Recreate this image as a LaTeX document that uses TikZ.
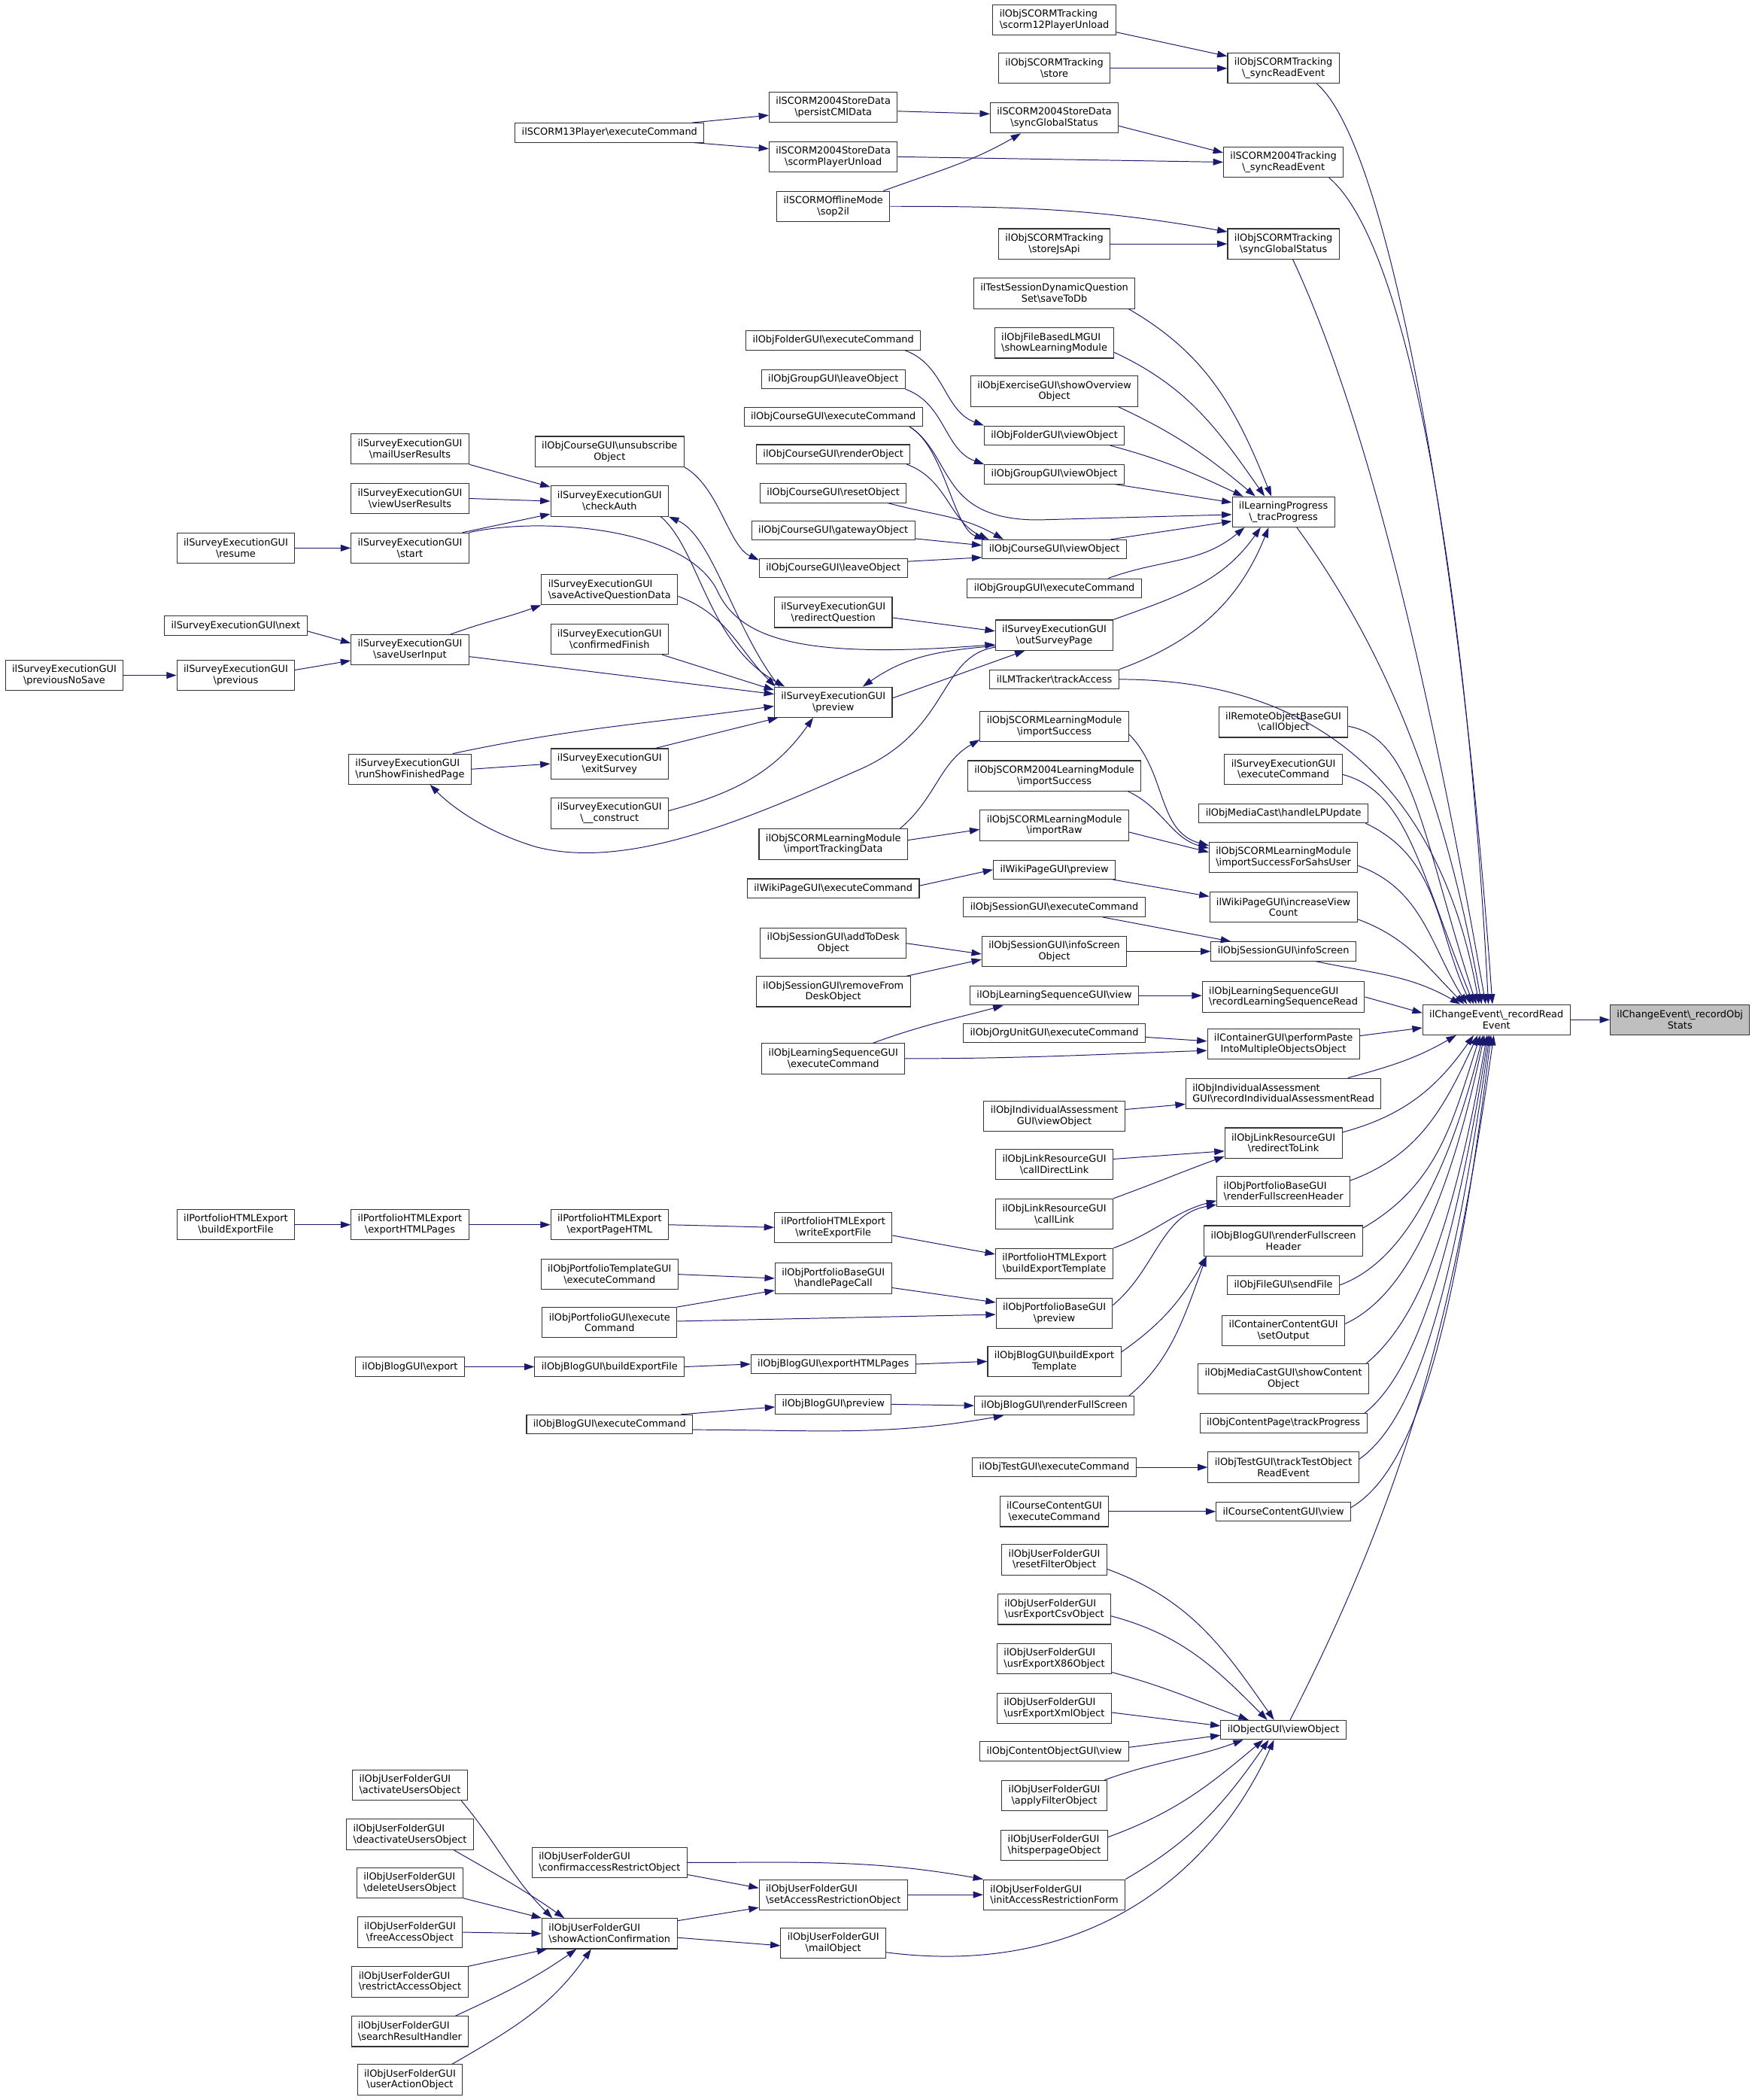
\documentclass[tikz,border=0pt]{standalone}
\usepackage{fontspec}
\setmainfont{DejaVu Sans}
\usetikzlibrary{arrows.meta}

\definecolor{callblue}{HTML}{191970}
\definecolor{rootgray}{HTML}{BFBFBF}
\newcommand{\bsl}{\textbackslash}

\tikzset{
  fn/.style={draw=black!80, line width=0.6pt, fill=white, align=center,
    font=\fontsize{7.25}{8.3}\selectfont, inner xsep=5pt, inner ysep=1pt,
    minimum height=22.6pt},
  fns/.style={fn, minimum height=14.3pt},
  fnl/.style={fn, align=left},
  call/.style={draw=callblue, line width=0.55pt, -{Triangle[length=7.5pt,width=5pt]}},
}

\begin{document}
\begin{tikzpicture}[x=1pt,y=-1pt]
\useasboundingbox (0,0) rectangle (1310,1567.2);

% ==== root ====
\node[fn, fill=rootgray] (ros) at (1254,761) {ilChangeEvent\bsl\_recordObj\\Stats};
\node[fn] (rre) at (1117,761) {ilChangeEvent\bsl\_recordRead\\Event};

% ==== direct callers of recordReadEvent ====
\node[fn] (sst) at (958,51) {ilObjSCORMTracking\\\bsl\_syncReadEvent};
\node[fn] (s4t) at (958,121) {ilSCORM2004Tracking\\\bsl\_syncReadEvent};
\node[fn] (sgs) at (958,182) {ilObjSCORMTracking\\\bsl syncGlobalStatus};
\node[fn] (ltp) at (958,382) {ilLearningProgress\\\bsl\_tracProgress};
\node[fn] (rcall) at (958,539) {ilRemoteObjectBaseGUI\\\bsl callObject};
\node[fn] (sexec) at (958,574) {ilSurveyExecutionGUI\\\bsl executeCommand};
\node[fns] (mclp) at (958,607) {ilObjMediaCast\bsl handleLPUpdate};
\node[fn] (sahs) at (958,640) {ilObjSCORMLearningModule\\\bsl importSuccessForSahsUser};
\node[fn] (wivc) at (958,677) {ilWikiPageGUI\bsl increaseView\\Count};
\node[fns] (sesi) at (958,710) {ilObjSessionGUI\bsl infoScreen};
\node[fnl] (lsrr) at (958,744) {ilObjLearningSequenceGUI\\\bsl recordLearningSequenceRead};
\node[fn] (cpaste) at (958,779) {ilContainerGUI\bsl performPaste\\IntoMultipleObjectsObject};
\node[fnl] (iarr) at (958,816) {ilObjIndividualAssessment\\GUI\bsl recordIndividualAssessmentRead};
\node[fn] (lrtl) at (958,853) {ilObjLinkResourceGUI\\\bsl redirectToLink};
\node[fnl] (pfsh) at (958,889) {ilObjPortfolioBaseGUI\\\bsl renderFullscreenHeader};
\node[fn] (bfsh) at (958,926) {ilObjBlogGUI\bsl renderFullscreen\\Header};
\node[fns] (fsend) at (958,959) {ilObjFileGUI\bsl sendFile};
\node[fn] (ccout) at (958,993) {ilContainerContentGUI\\\bsl setOutput};
\node[fn] (mcsc) at (958,1029) {ilObjMediaCastGUI\bsl showContent\\Object};
\node[fns] (cptp) at (958,1062) {ilObjContentPage\bsl trackProgress};
\node[fn] (tgre) at (958,1095) {ilObjTestGUI\bsl trackTestObject\\ReadEvent};
\node[fns] (ccview) at (958,1128) {ilCourseContentGUI\bsl view};
\node[fns] (ogvo) at (958,1291) {ilObjectGUI\bsl viewObject};

% ==== second column ====
\node[fnl] (s12u) at (787,15) {ilObjSCORMTracking\\\bsl scorm12PlayerUnload};
\node[fn] (sstore) at (787,51) {ilObjSCORMTracking\\\bsl store};
\node[fn] (sdgs) at (787,88) {ilSCORM2004StoreData\\\bsl syncGlobalStatus};
\node[fn] (sjs) at (787,182) {ilObjSCORMTracking\\\bsl storeJsApi};
\node[fn] (tsdb) at (787,219) {ilTestSessionDynamicQuestion\\Set\bsl saveToDb};
\node[fnl] (fblm) at (787,256) {ilObjFileBasedLMGUI\\\bsl showLearningModule};
\node[fn] (exov) at (787,292) {ilObjExerciseGUI\bsl showOverview\\Object};
\node[fns] (fovo) at (787,325) {ilObjFolderGUI\bsl viewObject};
\node[fns] (grvo) at (787,354) {ilObjGroupGUI\bsl viewObject};
\node[fns] (crvo) at (787,410) {ilObjCourseGUI\bsl viewObject};
\node[fns] (grex) at (787,439) {ilObjGroupGUI\bsl executeCommand};
\node[fn] (osp) at (787,474) {ilSurveyExecutionGUI\\\bsl outSurveyPage};
\node[fns] (lmta) at (787,507) {ilLMTracker\bsl trackAccess};
\node[fn] (sis) at (787,542) {ilObjSCORMLearningModule\\\bsl importSuccess};
\node[fn] (s4is) at (787,579) {ilObjSCORM2004LearningModule\\\bsl importSuccess};
\node[fn] (sraw) at (787,616) {ilObjSCORMLearningModule\\\bsl importRaw};
\node[fns] (wprev) at (787,649) {ilWikiPageGUI\bsl preview};
\node[fns] (sesx) at (787,677) {ilObjSessionGUI\bsl executeCommand};
\node[fn] (siso) at (787,710) {ilObjSessionGUI\bsl infoScreen\\Object};
\node[fns] (lsv) at (787,743) {ilObjLearningSequenceGUI\bsl view};
\node[fns] (ouex) at (787,771) {ilObjOrgUnitGUI\bsl executeCommand};
\node[fn] (iavo) at (787,833) {ilObjIndividualAssessment\\GUI\bsl viewObject};
\node[fn] (lrcd) at (787,869) {ilObjLinkResourceGUI\\\bsl callDirectLink};
\node[fn] (lrcl) at (787,906) {ilObjLinkResourceGUI\\\bsl callLink};
\node[fn] (pbet) at (787,943) {ilPortfolioHTMLExport\\\bsl buildExportTemplate};
\node[fn] (pbprev) at (787,980) {ilObjPortfolioBaseGUI\\\bsl preview};
\node[fn] (bbet) at (787,1016) {ilObjBlogGUI\bsl buildExport\\Template};
\node[fns] (brfs) at (787,1049) {ilObjBlogGUI\bsl renderFullScreen};
\node[fns] (tgex) at (787,1095) {ilObjTestGUI\bsl executeCommand};
\node[fn] (ccex) at (787,1128) {ilCourseContentGUI\\\bsl executeCommand};
\foreach \n/\y/\t/\s in {ufrf/1164/resetFilterObject/fn, ufcsv/1201/usrExportCsvObject/fnl,
    ufx86/1238/usrExportX86Object/fnl, ufxml/1275/usrExportXmlObject/fnl,
    ufaf/1340/applyFilterObject/fn, ufhp/1377/hitsperpageObject/fnl,
    ufiar/1414/initAccessRestrictionForm/fnl}
  \node[\s] (\n) at (787,\y) {ilObjUserFolderGUI\\\bsl\t};
\node[fns] (cogv) at (787,1307) {ilObjContentObjectGUI\bsl view};

% ==== third column ====
\node[fn] (sdpc) at (622,80) {ilSCORM2004StoreData\\\bsl persistCMIData};
\node[fn] (sdpu) at (622,117) {ilSCORM2004StoreData\\\bsl scormPlayerUnload};
\node[fn] (som) at (622,154) {ilSCORMOfflineMode\\\bsl sop2il};
\node[fns] (foex) at (622,254) {ilObjFolderGUI\bsl executeCommand};
\node[fns] (grlo) at (622,283) {ilObjGroupGUI\bsl leaveObject};
\node[fns] (crex) at (622,311) {ilObjCourseGUI\bsl executeCommand};
\node[fns] (crro) at (622,339) {ilObjCourseGUI\bsl renderObject};
\node[fns] (crrs) at (622,368) {ilObjCourseGUI\bsl resetObject};
\node[fns] (crgw) at (622,396) {ilObjCourseGUI\bsl gatewayObject};
\node[fns] (crlo) at (622,424) {ilObjCourseGUI\bsl leaveObject};
\node[fn] (srq) at (622,457) {ilSurveyExecutionGUI\\\bsl redirectQuestion};
\node[fn] (sprev) at (622,524) {ilSurveyExecutionGUI\\\bsl preview};
\node[fn] (sitd) at (622,630) {ilObjSCORMLearningModule\\\bsl importTrackingData};
\node[fns] (wex) at (622,663) {ilWikiPageGUI\bsl executeCommand};
\node[fn] (sead) at (622,704) {ilObjSessionGUI\bsl addToDesk\\Object};
\node[fn] (serm) at (622,740) {ilObjSessionGUI\bsl removeFrom\\DeskObject};
\node[fn] (lsex) at (622,790) {ilObjLearningSequenceGUI\\\bsl executeCommand};
\node[fn] (pwef) at (622,916) {ilPortfolioHTMLExport\\\bsl writeExportFile};
\node[fn] (phpc) at (622,954) {ilObjPortfolioBaseGUI\\\bsl handlePageCall};
\node[fns] (behp) at (622,1018) {ilObjBlogGUI\bsl exportHTMLPages};
\node[fns] (bprev) at (622,1048) {ilObjBlogGUI\bsl preview};
\node[fnl] (ufsar) at (622,1414) {ilObjUserFolderGUI\\\bsl setAccessRestrictionObject};
\node[fn] (ufmail) at (622,1450) {ilObjUserFolderGUI\\\bsl mailObject};

% ==== fourth column ====
\node[fns] (s13) at (455,99) {ilSCORM13Player\bsl executeCommand};
\node[fn] (scrun) at (455,337) {ilObjCourseGUI\bsl unsubscribe\\Object};
\node[fn] (sca) at (455,374) {ilSurveyExecutionGUI\\\bsl checkAuth};
\node[fnl] (saqd) at (455,440) {ilSurveyExecutionGUI\\\bsl saveActiveQuestionData};
\node[fn] (scf) at (455,477) {ilSurveyExecutionGUI\\\bsl confirmedFinish};
\node[fn] (sexs) at (455,570) {ilSurveyExecutionGUI\\\bsl exitSurvey};
\node[fn] (scon) at (455,607) {ilSurveyExecutionGUI\\\bsl\_\_construct};
\node[fn] (pehtml) at (455,914) {ilPortfolioHTMLExport\\\bsl exportPageHTML};
\node[fn] (ptex) at (455,951) {ilObjPortfolioTemplateGUI\\\bsl executeCommand};
\node[fn] (pgex) at (455,987) {ilObjPortfolioGUI\bsl execute\\Command};
\node[fns] (bbef) at (455,1020) {ilObjBlogGUI\bsl buildExportFile};
\node[fns] (bex) at (455,1063) {ilObjBlogGUI\bsl executeCommand};
\node[fnl] (ufcar) at (455,1390) {ilObjUserFolderGUI\\\bsl confirmaccessRestrictObject};
\node[fnl] (ufsac) at (455,1443) {ilObjUserFolderGUI\\\bsl showActionConfirmation};

% ==== fifth column ====
\node[fn] (smur) at (306,335) {ilSurveyExecutionGUI\\\bsl mailUserResults};
\node[fn] (svur) at (306,372) {ilSurveyExecutionGUI\\\bsl viewUserResults};
\node[fn] (sstart) at (306,409) {ilSurveyExecutionGUI\\\bsl start};
\node[fn] (ssui) at (306,485) {ilSurveyExecutionGUI\\\bsl saveUserInput};
\node[fnl] (srsf) at (306,574) {ilSurveyExecutionGUI\\\bsl runShowFinishedPage};
\node[fn] (pehp) at (306,914) {ilPortfolioHTMLExport\\\bsl exportHTMLPages};
\node[fns] (bexp) at (306,1020) {ilObjBlogGUI\bsl export};
\foreach \n/\y/\t/\s in {ufact/1332/activateUsersObject/fnl, ufdeact/1369/deactivateUsersObject/fnl,
    ufdel/1405/deleteUsersObject/fnl, uffree/1442/freeAccessObject/fn,
    ufrestr/1479/restrictAccessObject/fnl, ufsrh/1516/searchResultHandler/fnl,
    ufuao/1552/userActionObject/fn}
  \node[\s] (\n) at (306,\y) {ilObjUserFolderGUI\\\bsl\t};

% ==== far left ====
\node[fn] (sres) at (176,409) {ilSurveyExecutionGUI\\\bsl resume};
\node[fns] (snext) at (176,467) {ilSurveyExecutionGUI\bsl next};
\node[fn] (sprv) at (176,504) {ilSurveyExecutionGUI\\\bsl previous};
\node[fn] (pbef) at (176,914) {ilPortfolioHTMLExport\\\bsl buildExportFile};
\node[fn] (spns) at (48,504) {ilSurveyExecutionGUI\\\bsl previousNoSave};

% ==== root edge ====
\draw[call] (rre.east) -- (ros.west);

% ==== into recordReadEvent, from above ====
\draw[call] ([xshift=-17pt]sst.south east) to[out=-40,in=94,out distance=70pt,in distance=340pt] ([xshift=-3pt]rre.north);
\draw[call] ([xshift=-11pt]s4t.south east) to[out=-40,in=93,out distance=80pt,in distance=300pt] ([xshift=-6pt]rre.north);
\draw[call] ([xshift=7pt]sgs.south) to[out=-65,in=100,out distance=150pt,in distance=200pt] ([xshift=-8pt]rre.north);
\draw[call] ([xshift=10pt]ltp.south) to[out=-54,in=100,out distance=120pt,in distance=150pt] ([xshift=-11pt]rre.north);
\draw[call] (lmta.east) to[out=0,in=100,out distance=170pt,in distance=140pt] ([xshift=-13pt]rre.north);
\draw[call] ([yshift=-3pt]rcall.east) to[out=-10,in=108,out distance=50pt,in distance=130pt] ([xshift=-15pt]rre.north);
\draw[call] ([yshift=-4pt]sexec.east) to[out=-15,in=112,out distance=50pt,in distance=110pt] ([xshift=-17pt]rre.north);
\draw[call] ([xshift=-2pt]mclp.south east) to[out=-25,in=115] ([xshift=-19pt]rre.north);
\draw[call] ([yshift=-6pt]sahs.east) to[out=-20,in=122] ([xshift=-22pt]rre.north);
\draw[call] ([yshift=-9pt]wivc.east) to[out=-20,in=135] ([xshift=-24pt]rre.north);
\draw[call] ([xshift=-30pt]sesi.south east) to[out=-12,in=150] ([xshift=-27pt]rre.north);
% from the left
\draw[call] (lsrr.east) -- ([yshift=5pt]rre.west);
\draw[call] ([yshift=6pt]cpaste.east) -- ([yshift=-6pt]rre.west);
% from below
\draw[call] ([xshift=-25pt]iarr.north east) to[out=15,in=-150] ([xshift=-30pt]rre.south);
\draw[call] ([yshift=8pt]lrtl.east) to[out=15,in=-125] ([xshift=-17pt]rre.south);
\draw[call] ([yshift=8pt]pfsh.east) to[out=20,in=-115] ([xshift=-14pt]rre.south);
\draw[call] ([yshift=-2pt]bfsh.north east) to[out=30,in=-108] ([xshift=-12pt]rre.south);
\draw[call] (fsend.east) to[out=20,in=-104,out distance=50pt,in distance=110pt] ([xshift=-10pt]rre.south);
\draw[call] ([yshift=5pt]ccout.east) to[out=25,in=-102,out distance=50pt,in distance=130pt] ([xshift=-9pt]rre.south);
\draw[call] ([xshift=-2pt]mcsc.north east) to[out=40,in=-100,out distance=50pt,in distance=150pt] ([xshift=-7pt]rre.south);
\draw[call] ([xshift=-2pt]cptp.north east) to[out=38,in=-99,out distance=50pt,in distance=160pt] ([xshift=-6pt]rre.south);
\draw[call] ([yshift=6pt]tgre.east) to[out=35,in=-98,out distance=55pt,in distance=180pt] ([xshift=-5pt]rre.south);
\draw[call] ([yshift=3pt]ccview.east) to[out=30,in=-97,out distance=60pt,in distance=200pt] ([xshift=-4pt]rre.south);
\draw[call] ([xshift=5pt]ogvo.north) to[out=63,in=-98,out distance=200pt,in distance=200pt] ([xshift=-2pt]rre.south);

% ==== SCORM ====
\draw[call] ([xshift=-9pt]s13.north east) -- ([yshift=-6pt]sdpc.west);
\draw[call] ([xshift=-8pt]s13.south east) -- ([yshift=6pt]sdpu.west);
\draw[call] ([yshift=-3pt]sdpc.east) -- ([yshift=3pt]sdgs.west);
\draw[call] (sdpu.east) -- (s4t.west);
\draw[call] ([xshift=-5pt]som.north east) to[out=20,in=-150] ([xshift=-25pt]sdgs.south);
\draw[call] (som.east) to[out=0,in=170] ([yshift=9pt]sgs.west);
\draw[call] ([yshift=-9pt]s12u.east) -- ([yshift=9pt]sst.west);
\draw[call] (sstore.east) -- (sst.west);
\draw[call] ([yshift=-6pt]sdgs.east) -- ([yshift=7pt]s4t.west);
\draw[call] (sjs.east) -- (sgs.west);

% ==== learning progress ====
\draw[call] ([xshift=-5pt]tsdb.south east) to[out=-30,in=112] ([xshift=-9pt]ltp.north);
\draw[call] ([yshift=-7pt]fblm.east) to[out=-25,in=125] ([xshift=-14pt]ltp.north);
\draw[call] ([xshift=-15pt]exov.south east) to[out=-25,in=140] ([xshift=-21pt]ltp.north);
\draw[call] ([xshift=-11pt]fovo.south east) to[out=-15,in=155] ([xshift=-30pt]ltp.north);
\draw[call] ([xshift=-7pt]grvo.south east) -- ([yshift=7pt]ltp.west);
\draw[call] ([xshift=-12pt]crvo.north east) -- ([yshift=-7pt]ltp.west);
\draw[call] ([xshift=-25pt]grex.north east) to[out=20,in=-140] ([xshift=-29pt]ltp.south);
\draw[call] (osp.north east) to[out=20,in=-125] ([xshift=-17pt]ltp.south);
\draw[call] (lmta.north east) to[out=20,in=-112] ([xshift=-11pt]ltp.south);
\draw[call] ([xshift=-10pt]crex.south east) .. controls (712,340) and (700,388) .. (775,388) -- ([yshift=-2pt]ltp.west);

% ==== folder, group, course ====
\draw[call] ([xshift=-12pt]foex.south east) to[out=-20,in=160] (fovo.north west);
\draw[call] (grlo.south east) to[out=-20,in=160] (grvo.north west);
\draw[call] ([xshift=-10pt]crex.south east) to[out=-30,in=160,out distance=30pt,in distance=25pt] ([xshift=2pt]crvo.north west);
\draw[call] ([xshift=-3pt]crro.south east) to[out=-20,in=155] ([xshift=5pt]crvo.north west);
\draw[call] ([xshift=-14pt]crrs.south east) to[out=-15,in=150] ([xshift=16pt]crvo.north west);
\draw[call] ([yshift=-6pt]crgw.east) -- ([yshift=3pt]crvo.west);
\draw[call] ([yshift=5pt]crlo.east) -- ([yshift=-6pt]crvo.west);
\draw[call] (scrun.south east) to[out=-30,in=155,out distance=30pt,in distance=25pt] ([yshift=6pt]crlo.west);

% ==== survey ====
\draw[call] (sres.east) -- (sstart.west);
\draw[call] (spns.east) -- (sprv.west);
\draw[call] ([yshift=-4pt]snext.east) -- ([yshift=5pt]ssui.west);
\draw[call] ([yshift=4pt]sprv.east) -- ([yshift=-8pt]ssui.west);
\draw[call] (smur.south east) -- ([yshift=-1pt]sca.north west);
\draw[call] (svur.east) -- (sca.west);
\draw[call] ([xshift=-5pt]sstart.north east) -- ([yshift=2pt]sca.south west);
\draw[call] ([xshift=-14pt]ssui.north east) to[out=20,in=-160] (saqd.south west);
\draw[call] ([yshift=-5pt]ssui.east) -- ([yshift=6pt]sprev.west);
\draw[call] (srsf.east) -- (sexs.west);
\draw[call] ([xshift=-14pt]srsf.north east) to[out=12,in=-172] ([yshift=-3pt]sprev.west);
\draw[call] ([xshift=-5pt]scf.south east) -- ([yshift=9pt]sprev.west);
\draw[call] ([yshift=-5pt]saqd.east) to[out=-20,in=135] ([xshift=1pt]sprev.north west);
\draw[call] ([xshift=-10pt]sexs.north east) -- ([xshift=3pt]sprev.south west);
\draw[call] ([yshift=2pt]scon.east) to[out=15,in=-125] ([xshift=-15pt]sprev.south);
\draw[call] ([xshift=4pt]sprev.north west) .. controls (548,470) and (532,400) .. (sca.south east);
\draw[call] ([xshift=-6pt]sca.south east) .. controls (522,410) and (528,480) .. ([xshift=8pt]sprev.north west);
\draw[call] (sstart.north east) .. controls (400,386) and (510,392) .. (535,440) .. controls (552,478) and (600,492) .. ([yshift=-7pt]osp.west);
\draw[call] ([yshift=3pt]sprev.east) -- ([xshift=-22pt]osp.south);
\draw[call] ([yshift=-8pt]osp.west) to[out=185,in=35] ([xshift=22pt]sprev.north);
\draw[call] ([yshift=-4pt]srq.east) -- ([yshift=3pt]osp.west);
\draw[call] ([yshift=-9pt]osp.west) .. controls (700,490) and (710,545) .. (640,575) .. controls (560,610) and (470,650) .. (400,632) .. controls (360,620) and (335,600) .. ([xshift=15pt]srsf.south);

% ==== SCORM learning module ====
\draw[call] ([xshift=-6pt]sitd.north east) to[out=40,in=-150] ([yshift=-10pt]sis.west);
\draw[call] ([yshift=3pt]sitd.east) -- ([yshift=-3pt]sraw.west);
\draw[call] ([yshift=-6pt]sis.east) to[out=-45,in=165] ([yshift=9pt]sahs.west);
\draw[call] ([xshift=-10pt]s4is.south east) to[out=-25,in=165] ([yshift=7pt]sahs.west);
\draw[call] ([yshift=-5pt]sraw.east) -- ([yshift=4pt]sahs.west);

% ==== wiki, session, learning sequence ====
\draw[call] ([yshift=2pt]wex.east) -- (wprev.west);
\draw[call] ([xshift=-2pt]wprev.south east) -- ([yshift=8pt]wivc.west);
\draw[call] (sead.east) -- ([yshift=-2pt]siso.west);
\draw[call] ([xshift=-3pt]serm.north east) -- ([yshift=-6pt]siso.west);
\draw[call] ([xshift=-32pt]sesx.south east) -- ([xshift=15pt]sesi.north west);
\draw[call] (siso.east) -- (sesi.west);
\draw[call] ([xshift=-24pt]lsex.north east) to[out=20,in=-165] ([xshift=25pt]lsv.south west);
\draw[call] (lsex.east) to[out=0,in=-178] ([yshift=-5pt]cpaste.west);
\draw[call] ([yshift=-3pt]ouex.east) -- ([yshift=2pt]cpaste.west);
\draw[call] (lsv.east) -- ([yshift=1pt]lsrr.west);
\draw[call] ([yshift=5pt]iavo.east) -- ([yshift=-8pt]iarr.west);

% ==== link resource ====
\draw[call] ([yshift=4pt]lrcd.east) -- ([yshift=-6pt]lrtl.west);
\draw[call] (lrcl.north east) to[out=20,in=200] ([yshift=-10pt]lrtl.west);

% ==== portfolio ====
\draw[call] (pbef.east) -- (pehp.west);
\draw[call] (pehp.east) -- (pehtml.west);
\draw[call] (pehtml.east) -- (pwef.west);
\draw[call] ([yshift=-6pt]pwef.east) -- ([yshift=7pt]pbet.west);
\draw[call] (ptex.east) -- (phpc.west);
\draw[call] (pgex.north east) -- ([yshift=-9pt]phpc.west);
\draw[call] ([yshift=1pt]pgex.east) -- ([yshift=-1pt]pbprev.west);
\draw[call] ([yshift=-7pt]phpc.east) -- ([yshift=8pt]pbprev.west);
\draw[call] (pbet.north east) to[out=20,in=195] ([yshift=-7pt]pfsh.west);
\draw[call] ([yshift=6pt]pbprev.east) to[out=40,in=190] ([yshift=-10pt]pfsh.west);

% ==== blog ====
\draw[call] (bexp.east) -- (bbef.west);
\draw[call] (bbef.east) -- (behp.west);
\draw[call] (behp.east) -- (bbet.west);
\draw[call] ([xshift=-9pt]bex.north east) -- ([yshift=-2pt]bprev.west);
\draw[call] ([yshift=-4pt]bex.east) to[out=0,in=-170] ([xshift=22pt]brfs.south west);
\draw[call] (bprev.east) -- (brfs.west);
\draw[call] ([yshift=7pt]bbet.east) to[out=35,in=-120] ([xshift=2pt]bfsh.south west);
\draw[call] ([xshift=-4pt]brfs.north east) to[out=40,in=-110,out distance=40pt,in distance=50pt] ([xshift=2pt]bfsh.south west);

% ==== test, course content ====
\draw[call] (tgex.east) -- (tgre.west);
\draw[call] (ccex.east) -- (ccview.west);

% ==== object GUI viewObject ====
\draw[call] ([yshift=-7pt]ufrf.east) to[out=-20,in=125] ([xshift=-7pt]ogvo.north);
\draw[call] ([yshift=-5pt]ufcsv.east) to[out=-15,in=135] ([xshift=-12pt]ogvo.north);
\draw[call] ([yshift=-10pt]ufx86.east) to[out=-15,in=160] ([xshift=-26pt]ogvo.north);
\draw[call] ([yshift=-3pt]ufxml.east) -- ([yshift=3pt]ogvo.west);
\draw[call] ([yshift=3pt]cogv.east) -- ([yshift=-4pt]ogvo.west);
\draw[call] ([xshift=-2pt]ufaf.north east) to[out=20,in=-160] ([xshift=-30pt]ogvo.south);
\draw[call] ([yshift=6pt]ufhp.east) to[out=20,in=-140] ([xshift=-15pt]ogvo.south);
\draw[call] (ufiar.north east) to[out=30,in=-125] ([xshift=-11pt]ogvo.south);
\draw[call] ([yshift=-7pt]ufmail.east) .. controls (800,1475) and (900,1410) .. ([xshift=-7pt]ogvo.south);

% ==== user folder ====
\draw[call] ([xshift=-5pt]ufact.south east) to[out=-50,in=135] ([xshift=8pt]ufsac.north west);
\draw[call] ([xshift=-15pt]ufdeact.south east) to[out=-30,in=145] ([xshift=17pt]ufsac.north west);
\draw[call] (ufdel.south east) -- (ufsac.north west);
\draw[call] (uffree.east) -- (ufsac.west);
\draw[call] (ufrestr.north east) -- ([xshift=4pt]ufsac.south west);
\draw[call] ([xshift=-10pt]ufsrh.north east) to[out=25,in=-145] ([xshift=26pt]ufsac.south west);
\draw[call] ([xshift=-8pt]ufuao.north east) to[out=30,in=-125] ([xshift=37pt]ufsac.south west);
\draw[call] ([yshift=-9pt]ufcar.east) -- ([yshift=5pt]ufsar.west);
\draw[call] (ufcar.east) to[out=0,in=170] (ufiar.north west);
\draw[call] ([yshift=-2pt]ufsac.north east) -- ([yshift=2pt]ufsar.south west);
\draw[call] ([yshift=-3pt]ufsac.east) -- ([yshift=-2pt]ufmail.west);
\draw[call] (ufsar.east) -- (ufiar.west);

\end{tikzpicture}
\end{document}
